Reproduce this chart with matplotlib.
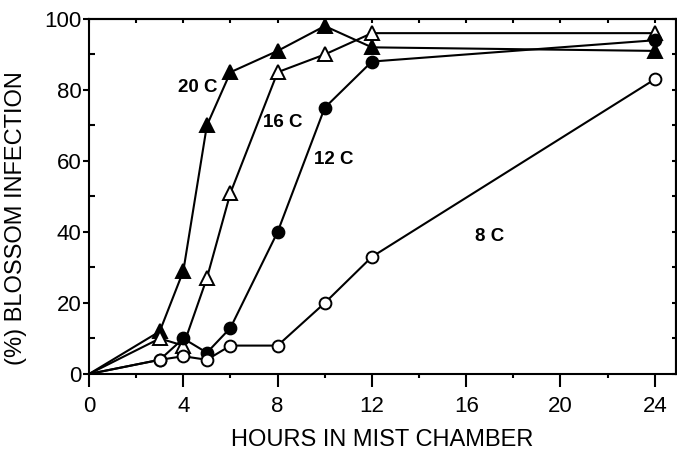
import matplotlib
matplotlib.use('Agg')
import matplotlib.pyplot as plt
from matplotlib.ticker import MultipleLocator, NullFormatter

plt.rcParams['font.family'] = ['Liberation Sans', 'DejaVu Sans']

# hours in mist chamber
hours = [0, 3, 4, 5, 6, 8, 10, 12, 24]

# % blossom infection at each temperature
infect_20c = [0, 12, 29, 70, 85, 91, 98, 92, 91]
infect_16c = [0, 10, 8, 27, 51, 85, 90, 96, 96]
infect_12c = [0, 4, 10, 6, 13, 40, 75, 88, 94]
infect_8c = [0, 4, 5, 4, 8, 8, 20, 33, 83]

series_labels = ['20 C', '16 C', '12 C', '8 C']
label_pos = [(4.6, 80.6), (8.2, 70.7), (10.4, 60.3), (17.0, 38.6)]

fig = plt.figure(figsize=(6.77, 4.5), dpi=100)
ax = fig.add_axes([0.1315, 0.1689, 0.867, 0.789])

styles = [
    (infect_20c, '^', 'black', 10.5),
    (infect_16c, '^', 'white', 10.5),
    (infect_12c, 'o', 'black', 8.5),
    (infect_8c, 'o', 'white', 8.5),
]
for vals, mk, fc, ms in styles:
    ax.plot(hours, vals, color='black', lw=1.5, marker=mk, markersize=ms,
            markerfacecolor=fc, markeredgecolor='black', markeredgewidth=1.4,
            markevery=slice(1, None), clip_on=False, zorder=3)

for txt, (x, y) in zip(series_labels, label_pos):
    ax.text(x, y, txt, fontsize=13.5, fontweight='bold', ha='center', va='center')

ax.set_xlim(0, 24.9)
ax.set_ylim(0, 100)

ax.xaxis.set_major_locator(MultipleLocator(4))
ax.xaxis.set_minor_locator(MultipleLocator(2))
ax.yaxis.set_major_locator(MultipleLocator(20))
ax.yaxis.set_minor_locator(MultipleLocator(10))

ax.tick_params(axis='x', which='major', direction='out', length=9.5, width=1.5,
               labelsize=16, pad=6)
ax.tick_params(axis='x', which='minor', direction='out', length=3, width=1.5)
ax.tick_params(axis='y', which='major', direction='out', length=4.5, width=1.5,
               labelsize=16, pad=1)
ax.tick_params(axis='y', which='minor', direction='in', length=4.5, width=1.5)

for sp in ax.spines.values():
    sp.set_linewidth(1.5)

top = ax.secondary_xaxis('top')
top.xaxis.set_major_locator(MultipleLocator(2))
top.xaxis.set_major_formatter(NullFormatter())
top.tick_params(direction='in', length=3, width=1.5)
top.spines['top'].set_linewidth(1.5)

right = ax.secondary_yaxis('right')
right.yaxis.set_major_locator(MultipleLocator(10))
right.yaxis.set_major_formatter(NullFormatter())
right.tick_params(direction='in', length=3, width=1.5)
right.spines['right'].set_linewidth(1.5)

ax.set_xlabel('HOURS IN MIST CHAMBER', fontsize=17, labelpad=9)
ax.set_ylabel('(%) BLOSSOM INFECTION', fontsize=17)
ax.yaxis.set_label_coords(-0.106, 0.44)

fig.savefig('out.png', dpi=100)
